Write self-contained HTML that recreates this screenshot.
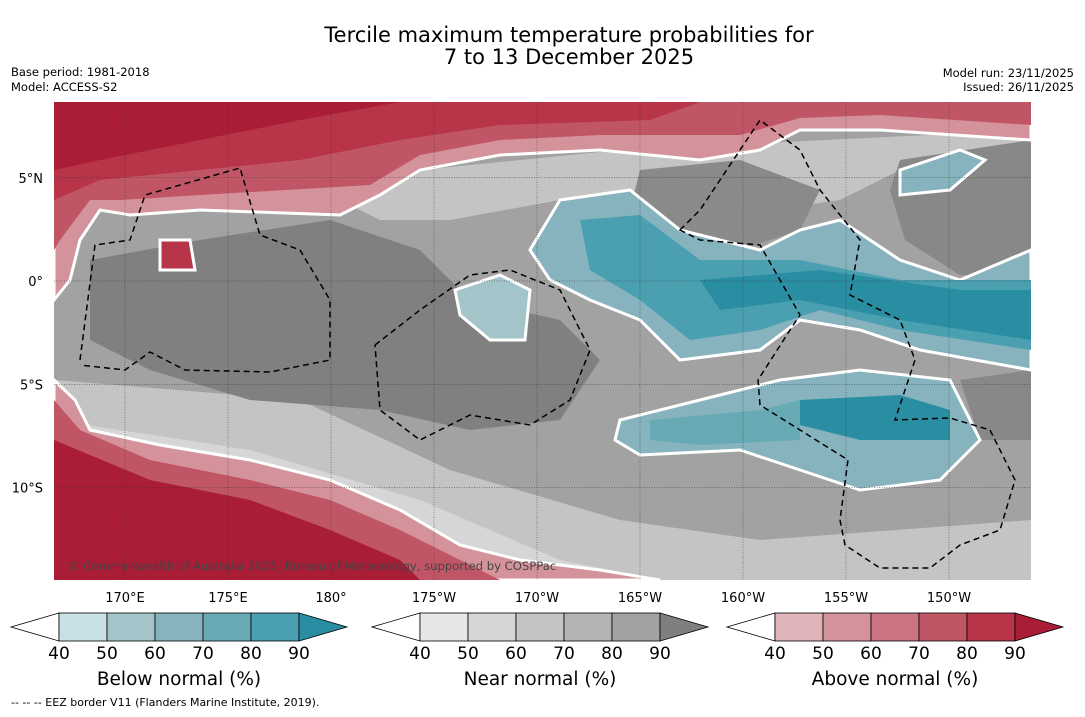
<!DOCTYPE html>
<html><head><meta charset="utf-8">
<style>
body{margin:0;background:#fff;width:1085px;height:713px;overflow:hidden;font-family:"DejaVu Sans","Liberation Sans",sans-serif;}
svg text{font-family:"DejaVu Sans","Liberation Sans",sans-serif;}
</style></head>
<body>
<svg width="1085" height="713" viewBox="0 0 1085 713" id="svg">
<text x="569" y="42" font-size="21" text-anchor="middle">Tercile maximum temperature probabilities for</text>
<text x="569" y="64" font-size="21" text-anchor="middle">7 to 13 December 2025</text>
<text x="11" y="76" font-size="11.5">Base period: 1981-2018</text>
<text x="11" y="91" font-size="11.5">Model: ACCESS-S2</text>
<text x="1074" y="77" font-size="11.5" text-anchor="end">Model run: 23/11/2025</text>
<text x="1074" y="91" font-size="11.5" text-anchor="end">Issued: 26/11/2025</text>
<defs><clipPath id="mc"><rect x="54" y="102" width="977" height="478"/></clipPath></defs>
<g clip-path="url(#mc)">
<rect x="54" y="102" width="977" height="478" fill="#a2a2a2"/>
<path d="M54 380 L300 400 L450 470 L620 520 L760 540 L1031 520 L1031 580 L54 580Z" fill="#c4c4c4"/>
<path d="M54 420 L250 450 L420 500 L560 560 L660 580 L54 580Z" fill="#d6d6d6"/>
<path d="M340 200 L420 170 L620 150 L1031 130 L1031 150 L900 170 L840 200 L700 220 L560 200 L450 220 L380 220Z" fill="#c4c4c4"/>
<path d="M90 260 L200 240 L330 220 L420 250 L470 300 L560 320 L600 360 L560 420 L470 430 L380 410 L250 400 L150 370 L90 340Z" fill="#808080"/>
<path d="M640 170 L740 160 L820 190 L800 230 L740 250 L680 240 L630 210Z" fill="#8a8a8a"/>
<path d="M900 160 L1031 140 L1031 275 L960 275 L905 240 L890 190Z" fill="#888"/>
<path d="M960 380 L1031 370 L1031 440 L980 440Z" fill="#888"/>
<g stroke="#fff" stroke-width="3">
<path d="M54 102 L1031 102 L1031 140 L880 130 L800 130 L760 150 L700 160 L600 150 L500 155 L420 170 L380 195 L340 215 L200 210 L130 215 L100 210 L80 240 L70 280 L54 300Z" fill="#d4939a"/>
</g>
<path d="M54 102 L1031 102 L1031 125 L880 115 L800 118 L740 135 L600 135 L500 140 L420 155 L370 185 L200 195 L120 200 L90 200 L60 240 L54 250Z" fill="#c05665"/>
<path d="M54 102 L700 102 L650 120 L500 125 L400 140 L300 160 L200 170 L100 180 L54 200Z" fill="#b83448"/>
<path d="M54 102 L400 102 L300 120 L200 140 L100 160 L54 170Z" fill="#a91d36"/>
<path d="M54 380 L75 400 L90 430 L160 445 L250 460 L330 480 L400 510 L460 545 L520 560 L600 570 L660 580 L54 580Z" fill="#d4939a" stroke="#fff" stroke-width="3"/>
<path d="M54 400 L80 430 L150 460 L250 480 L330 500 L400 530 L460 560 L500 580 L54 580Z" fill="#c05665"/>
<path d="M54 440 L150 480 L250 500 L330 530 L400 560 L420 580 L54 580Z" fill="#a91d36"/>
<path d="M160 240 L190 240 L195 270 L160 270Z" fill="#b83448" stroke="#fff" stroke-width="3"/>
<g stroke="#fff" stroke-width="3">
<path d="M560 200 L630 190 L680 230 L760 250 L800 230 L840 220 L900 260 L960 280 L1031 250 L1031 370 L920 350 L860 330 L800 320 L760 350 L680 360 L640 320 L590 300 L550 280 L530 250Z" fill="#86b3be"/>
<path d="M620 420 L700 400 L780 380 L860 370 L950 380 L980 440 L940 480 L860 490 L800 470 L740 450 L640 455 L615 440Z" fill="#86b3be"/>
<path d="M455 290 L500 275 L530 290 L525 340 L490 340 L460 315Z" fill="#a3c4c9"/>
<path d="M900 170 L960 150 L985 160 L950 190 L900 195Z" fill="#86b3be"/>
</g>
<path d="M580 220 L640 215 L700 260 L800 260 L900 280 L1031 280 L1031 350 L900 330 L820 310 L760 330 L690 340 L640 300 L590 270Z" fill="#4aa0b0"/>
<path d="M700 280 L820 270 L960 290 L1031 290 L1031 340 L900 320 L800 300 L720 310Z" fill="#2a8ea3"/>
<path d="M800 400 L900 395 L950 410 L950 440 L860 440 L800 425Z" fill="#2a8ea3"/>
<path d="M650 420 L760 410 L800 400 L800 440 L700 445 L650 440Z" fill="#67aab4"/>
<g stroke="#333" stroke-width="0.5" stroke-dasharray="1,1.5" id="grid"></g>
<g fill="none" stroke="#000" stroke-width="1.5" stroke-dasharray="6,4">
<path d="M80 360 L95 245 L130 240 L145 195 L240 168 L260 235 L300 250 L330 300 L330 360 L270 372 L185 370 L150 352 L125 370 L80 365"/>
<path d="M375 345 L420 310 L470 275 L510 270 L560 290 L590 350 L570 400 L530 425 L470 415 L420 440 L380 410 L375 345"/>
<path d="M680 230 L700 210 L760 120 L800 150 L820 190 L860 240 L850 295 L900 320 L915 360 L895 420 L950 418 L990 430 L1015 480 L1000 530 L960 545 L930 568 L880 568 L845 545 L840 520 L848 460 L760 405 L758 380 L790 330 L800 315 L760 245 L700 240Z"/>
</g>
<text x="68" y="570" font-size="11.6" fill="#444">© Commonwealth of Australia 2025, Bureau of Meteorology, supported by COSPPac</text>
</g>
<g id="latlabels" font-size="13"></g>
<g id="lonlabels" font-size="13"></g>
<g id="bars"></g>
<text x="11" y="706" font-size="11">--  --  -- EEZ border V11 (Flanders Marine Institute, 2019).</text>
</svg>
<script>
const ns="http://www.w3.org/2000/svg";
const latTicks=[5,0,-5,-10];
const latLabels=["5°N","0°","5°S","10°S"];
const lonTicks=[170,175,180,185,190,195,200,205,210];
const lonLabels=["170°E","175°E","180°","175°W","170°W","165°W","160°W","155°W","150°W"];
const barTicks=[40,50,60,70,80,90];
const belowColors=["#c8e0e6","#a3c4c9","#86b3be","#67aab4","#4aa0b0","#2a8ea3"];
const nearColors=["#e6e6e6","#d6d6d6","#c4c4c4","#b4b4b4","#a2a2a2","#7f7f7f"];
const aboveColors=["#e0b4b8","#d4939a","#c97480","#c05665","#b83448","#a91d36"];
const barTitles=["Below normal (%)","Near normal (%)","Above normal (%)"];
const xLon=l=>125+(l-170)*20.6;
const yLat=l=>281-l*20.65;
function mk(t,a,p){const e=document.createElementNS(ns,t);for(const k in a)e.setAttribute(k,a[k]);p.appendChild(e);return e;}
const grid=document.getElementById('grid');
latTicks.forEach((v,i)=>{
 const l=mk('line',{x1:54,x2:1031,y1:yLat(v),y2:yLat(v)},grid);
 
 
 const t=mk('text',{x:43,y:yLat(v)+5,'text-anchor':'end'},document.getElementById('latlabels'));
 t.textContent=latLabels[i];
 
 
});
lonTicks.forEach((v,i)=>{
 const l=mk('line',{x1:xLon(v),x2:xLon(v),y1:102,y2:580},grid);
 
 
 const t=mk('text',{x:xLon(v),y:602,'text-anchor':'middle'},document.getElementById('lonlabels'));
 t.textContent=lonLabels[i];
 
 
});
const bars=document.getElementById('bars');
[[59,belowColors],[420,nearColors],[775,aboveColors]].forEach((b,bi)=>{
 const x0=b[0],cols=b[1],w=48,y0=613,h=28;
 const g=mk('g',{},bars);
 
 
 const lt=mk('polygon',{points:`${x0},${y0} ${x0-48},${y0+h/2} ${x0},${y0+h}`,fill:'#fff',stroke:'#000','stroke-width':0.8},g);
 
 
 for(let i=0;i<5;i++){
  const r=mk('rect',{x:x0+i*w,y:y0,width:w,height:h,fill:cols[i],stroke:'#000','stroke-width':0.8},g);
  
  
 }
 const rt=mk('polygon',{points:`${x0+5*w},${y0} ${x0+5*w+48},${y0+h/2} ${x0+5*w},${y0+h}`,fill:cols[5],stroke:'#000','stroke-width':0.8},g);
 
 
 barTicks.forEach((v,i)=>{
  const t=mk('text',{x:x0+i*w,y:659,'font-size':17,'text-anchor':'middle'},g);
  t.textContent=v;
  
  
 });
 const tt=mk('text',{x:x0+2.5*w,y:685,'font-size':18.5,'text-anchor':'middle'},g);
 tt.textContent=barTitles[bi];
 
 
});
</script>
</body></html>
